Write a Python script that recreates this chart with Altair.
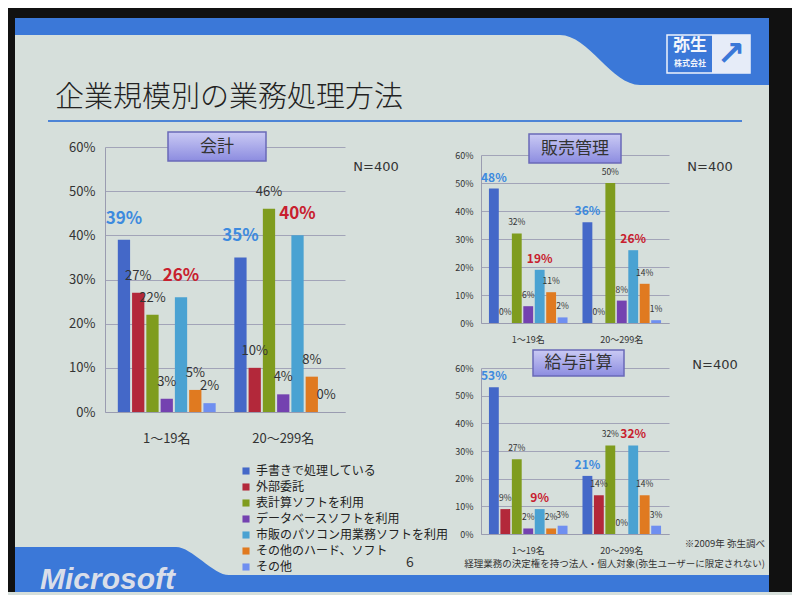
import altair as alt
import pandas as pd

FONT = "Noto Sans CJK JP"

methods = ["手書きで処理している", "外部委託", "表計算ソフトを利用", "データベースソフトを利用",
           "市販のパソコン用業務ソフトを利用", "その他のハード、ソフト", "その他"]
colors = ["#4468c8", "#b3283a", "#7f9c1e", "#7442b0", "#4aa2d2", "#e07a20", "#6f8ff0"]
sizes = ["1～19名", "20～299名"]

kaikei_small = [39, 27, 22, 3, 26, 5, 2]
kaikei_large = [35, 10, 46, 4, 40, 8, 0]
hanbai_small = [48, 0, 32, 6, 19, 11, 2]
hanbai_large = [36, 0, 50, 8, 26, 14, 1]
kyuyo_small = [53, 9, 27, 2, 9, 2, 3]
kyuyo_large = [21, 14, 32, 0, 32, 14, 3]

title_text = "企業規模別の業務処理方法"
n_text = "N=400"
note1 = "※2009年 弥生調べ"
note2 = "経理業務の決定権を持つ法人・個人対象(弥生ユーザーに限定されない)"
page_no = "6"
brand = "Microsoft"
logo_main = "弥生"
logo_sub = "株式会社"
logo_arrow = "↗"

SLIDE_BLUE = "#3b78d8"
BOX_FILL = {"gradient": "linear", "x1": 0, "y1": 0, "x2": 0, "y2": 1,
            "stops": [{"offset": 0, "color": "#cacaf4"}, {"offset": 1, "color": "#8c8ce0"}]}


def panel_df(small, large):
    rows = []
    for s, vals in zip(sizes, [small, large]):
        for i, (m, v) in enumerate(zip(methods, vals)):
            kind = "blue" if i == 0 else ("red" if i == 4 else "plain")
            rows.append(dict(size=s, method=m, value=v, label=f"{v}%", kind=kind))
    return pd.DataFrame(rows)


def panel(name, small, large, w, h, c, legend=None, before=None, after=None):
    df = panel_df(small, large)
    base = alt.Chart(df).properties(width=w, height=h)
    x = alt.X("size:N", sort=sizes,
              scale=alt.Scale(paddingInner=c["pi"], paddingOuter=c["po"]),
              axis=alt.Axis(title=None, labelAngle=0, labelFontSize=c["xfs"], labelFont=FONT,
                            labelColor="#333333", ticks=False, domainColor="#9a9cb0",
                            labelPadding=c["xpad"]))
    xo = alt.XOffset("method:N", sort=methods, scale=alt.Scale(paddingInner=0.14))
    y = alt.Y("value:Q", scale=alt.Scale(domain=[0, 60], nice=False),
              axis=alt.Axis(title=None, values=[0, 10, 20, 30, 40, 50, 60], labelOverlap=False,
                            labelExpr="datum.value + '%'", labelFontSize=c["yfs"], labelFont=FONT,
                            labelColor="#333333", ticks=False, domainColor="#9a9cb0",
                            gridColor="#a2a4b8", labelPadding=c["ypad"]))
    col = alt.Color("method:N", sort=methods,
                    scale=alt.Scale(domain=methods, range=colors),
                    legend=legend)
    bars = base.mark_bar().encode(x=x, xOffset=xo, y=y, color=col)

    def lab(kind, **kw):
        return base.transform_filter(alt.datum.kind == kind).mark_text(
            font=FONT, baseline="middle", **kw).encode(x=x, xOffset=xo, y=y, text="label:N")

    plain = lab("plain", fontSize=c["sfs"], color="#333333", dy=c["sdy"])
    blue = lab("blue", fontSize=c["bfs"], fontWeight="bold", color="#3d8ade", dy=c["bdy"])
    red = lab("red", fontSize=c["bfs"], fontWeight="bold", color="#c8202e", dy=c["bdy"])

    tdf = pd.DataFrame({"t": [name]})
    bx = c["box"]
    box = alt.Chart(tdf).mark_rect(fill=BOX_FILL, stroke="#6a6ab8", strokeWidth=1.5).encode(
        x=alt.value(bx[0]), x2=alt.value(bx[1]), y=alt.value(bx[2]), y2=alt.value(bx[3]))
    boxtext = alt.Chart(tdf).mark_text(font=FONT, fontSize=17, color="#333333", baseline="middle").encode(
        text="t:N", x=alt.value((bx[0] + bx[1]) / 2), y=alt.value((bx[2] + bx[3]) / 2))
    ndf = pd.DataFrame({"t": [n_text]})
    ntext = alt.Chart(ndf).mark_text(font="DejaVu Sans", fontSize=13, color="#333333", baseline="middle").encode(
        text="t:N", x=alt.value(c["n"][0]), y=alt.value(c["n"][1]))
    layers = (before or []) + [bars, plain, blue, red, box, boxtext, ntext] + (after or [])
    return alt.layer(*layers)


big_cfg = dict(pi=0.16, po=0.11, xfs=13, yfs=13, xpad=20, ypad=10, sfs=13, bfs=17, sdy=-17, bdy=-21,
               box=(63, 161, -15, 14), n=(271, 20))
small_cfg = dict(pi=0.16, po=0.085, xfs=9, yfs=9, xpad=12, ypad=8, sfs=8.5, bfs=12, sdy=-11, bdy=-11,
                 box=(48, 140, -21, 8), n=(229, 12))
small_cfg2 = dict(small_cfg, box=(52, 143, -18, 8), n=(234, -3))

# ---- slide decorations (positions relative to the left plot's top-left corner) ----
one = pd.DataFrame({"t": [""]})


def rect(x1, x2, y1, y2, color):
    return alt.Chart(one).mark_rect(color=color).encode(
        x=alt.value(x1), x2=alt.value(x2), y=alt.value(y1), y2=alt.value(y2))


def label(text, x, y, **kw):
    return alt.Chart(pd.DataFrame({"t": [text]})).mark_text(**kw).encode(
        text="t:N", x=alt.value(x), y=alt.value(y))


frame_right = rect(664, 687, -139, 445, "#111111")
frame_top = rect(-97, 687, -139, -129, "#111111")
frame_left = rect(-97, -90, -139, 445, "#111111")
band_top = rect(-90, 664, -129, -112, SLIDE_BLUE)
band_block = rect(535, 664, -112, -62, SLIDE_BLUE)
slope_top = alt.Chart(one).mark_point(
    shape="M-1,-0.625 C-0.3,-0.625 0.3,0.625 1,0.625 L1,-0.625 Z", size=6400,
    filled=True, opacity=1, color=SLIDE_BLUE, strokeWidth=0).encode(
    x=alt.value(495), y=alt.value(-87))
band_bottom = rect(-90, 664, 428, 445, SLIDE_BLUE)
bottom_block = rect(-90, 71, 400, 428, SLIDE_BLUE)
slope_bottom = alt.Chart(one).mark_point(
    shape="M-1,-0.53 C-0.4,-0.53 0.4,0.53 1,0.53 L-1,0.53 Z", size=2809,
    filled=True, opacity=1, color=SLIDE_BLUE, strokeWidth=0).encode(
    x=alt.value(97.5), y=alt.value(414))
ms_text = label(brand, -65, 442, font="Liberation Sans", fontSize=30, fontWeight="bold",
                fontStyle="italic", color="#d9dee9", align="left", baseline="alphabetic")
logo_box = alt.Chart(one).mark_rect(fill=SLIDE_BLUE, stroke="#eef2fb", strokeWidth=1.5).encode(
    x=alt.value(562), x2=alt.value(645), y=alt.value(-112), y2=alt.value(-74))
logo_arrow_bg = rect(607, 645, -112, -74, "#e6ecf8")
logo_t1 = label(logo_main, 585, -101, font=FONT, fontSize=17, fontWeight="bold", color="#f4f6fb",
                baseline="middle")
logo_t2 = label(logo_sub, 585, -83, font=FONT, fontSize=8, fontWeight="bold", color="#f4f6fb",
                baseline="middle")
logo_ar = label(logo_arrow, 626, -92, font="DejaVu Sans", fontSize=34, fontWeight="bold",
                color=SLIDE_BLUE, baseline="middle")
title_mark = label(title_text, -50, -49, font=FONT, fontSize=29, fontWeight=300, color="#222222",
                   align="left", baseline="middle")
underline = alt.Chart(one).mark_rule(color="#4d84d6", strokeWidth=2).encode(
    x=alt.value(-57), x2=alt.value(637), y=alt.value(-26))
page = label(page_no, 305, 416, font=FONT, fontSize=14, color="#333333", baseline="middle")

decor = [frame_right, frame_top, frame_left, band_top, band_block, slope_top, band_bottom,
         bottom_block, slope_bottom, ms_text, logo_box, logo_arrow_bg, logo_t1, logo_t2, logo_ar,
         title_mark, underline]

legend = alt.Legend(orient="none", legendX=135, legendY=318, title=None, labelFont=FONT,
                    labelFontSize=12, labelColor="#222222", symbolType="square", symbolSize=50,
                    rowPadding=4, labelLimit=300, symbolStrokeWidth=0)

left = panel("会計", kaikei_small, kaikei_large, 240, 265, big_cfg, legend=legend,
             before=decor, after=[page])

notes_df = pd.DataFrame({"t": [note1, note2], "y": [176, 196]})
notes = alt.Chart(notes_df).mark_text(font=FONT, fontSize=9.5, color="#333333", align="right",
                                      baseline="middle").encode(
    text="t:N", x=alt.value(284), y=alt.Y("y:Q", scale=None))

rt = panel("販売管理", hanbai_small, hanbai_large, 188, 168, small_cfg)
rb = panel("給与計算", kyuyo_small, kyuyo_large, 188, 166, small_cfg2, after=[notes])

spacer = alt.Chart(pd.DataFrame({"t": [""]})).mark_text().encode(text="t:N").properties(width=1, height=1)

res = dict(x="independent", y="independent", color="independent", xOffset="independent")
right_inner = alt.vconcat(rt, rb, spacing=45, bounds="flush").resolve_scale(**res)
right = alt.vconcat(spacer, right_inner, spacing=7, bounds="flush").resolve_scale(**res)

chart = alt.hconcat(left, right, spacing=136, bounds="flush").resolve_scale(**res).properties(
    padding=0,
    background="#d6dfdb",
).configure_view(strokeWidth=0)

chart.save("out.html", embed_options={"renderer": "svg", "actions": False})
